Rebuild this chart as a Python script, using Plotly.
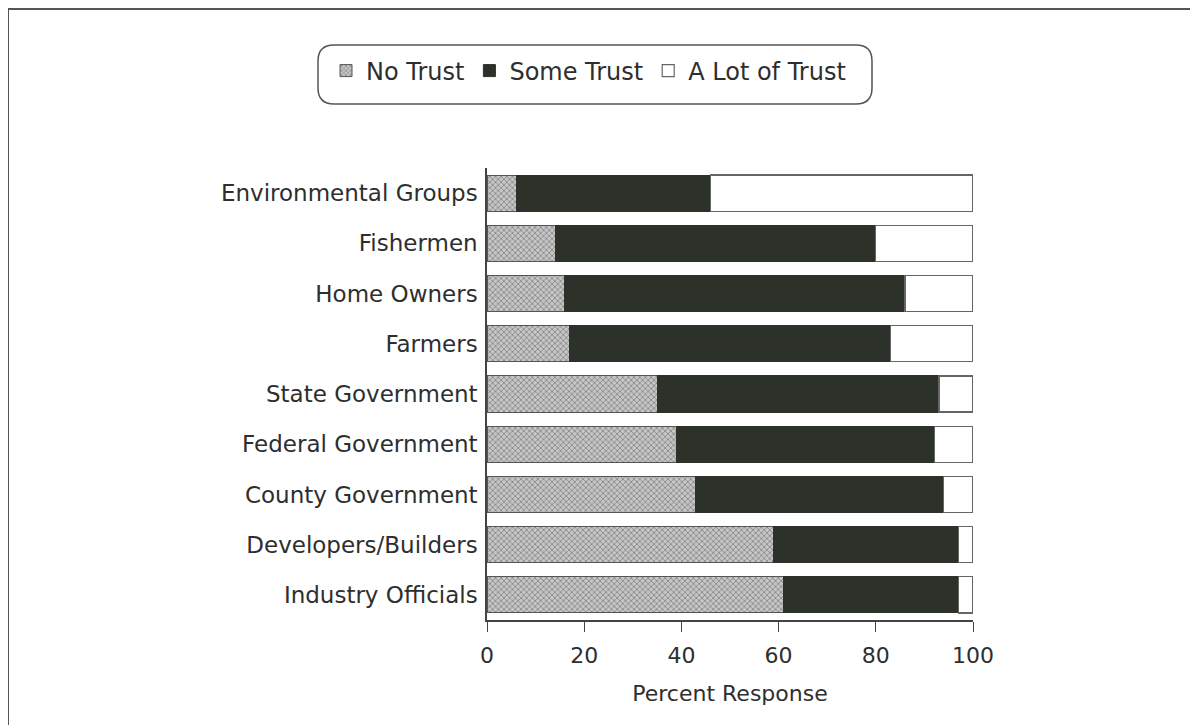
import plotly.graph_objects as go

categories = ["Environmental Groups", "Fishermen", "Home Owners", "Farmers",
              "State Government", "Federal Government", "County Government",
              "Developers/Builders", "Industry Officials"]
no_trust = [6, 14, 16, 17, 35, 39, 43, 59, 61]
some_trust = [40, 66, 70, 66, 58, 53, 51, 38, 36]
lot_trust = [54, 20, 14, 17, 7, 8, 6, 3, 3]
x_ticks = [0, 20, 40, 60, 80, 100]

OFF = 8  # page body margin
W, H = 1198 - OFF, 725 - OFF
L, R, T, B = 487 - OFF, 973 - OFF, 168 - OFF, 620 - OFF
PW, PH = R - L, B - T

def px(x):
    return (x - OFF - L) / PW

def py(y):
    return (B - (y - OFF)) / PH

FONT = "DejaVu Sans, Verdana, sans-serif"
TXT = "#2e2e2e"
FS = 22

fig = go.Figure()
fig.add_trace(go.Bar(
    y=categories, x=no_trust, name="No Trust", orientation="h",
    marker=dict(color="#b8b8b8",
                pattern=dict(shape="x", size=4, solidity=0.4, fgcolor="#4e4e4e", bgcolor="#c6c6c6"),
                line=dict(color="#555555", width=1))))
fig.add_trace(go.Bar(
    y=categories, x=some_trust, name="Some Trust", orientation="h",
    marker=dict(color="#2c3129", line=dict(color="#2c3129", width=1))))
fig.add_trace(go.Bar(
    y=categories, x=lot_trust, name="A Lot of Trust", orientation="h",
    marker=dict(color="#ffffff", line=dict(color="#666666", width=1.2))))

# rounded legend box
x0, x1, y0, y1 = px(318), px(872), py(104), py(45)
rx, ry = 16 / PW, 16 / PH
path = (f"M {x0+rx},{y1} L {x1-rx},{y1} Q {x1},{y1} {x1},{y1-ry} "
        f"L {x1},{y0+ry} Q {x1},{y0} {x1-rx},{y0} L {x0+rx},{y0} "
        f"Q {x0},{y0} {x0},{y0+ry} L {x0},{y1-ry} Q {x0},{y1} {x0+rx},{y1} Z")

shapes = [
    dict(type="path", path=path, xref="paper", yref="paper",
         line=dict(color="#555555", width=1.5), fillcolor="rgba(0,0,0,0)"),
    dict(type="rect", xref="paper", yref="paper",
         x0=px(8), x1=px(1192), y0=py(760), y1=py(9),
         line=dict(color="#555555", width=2), fillcolor="rgba(0,0,0,0)"),
]

fig.update_layout(
    width=W, height=H,
    barmode="stack", bargap=0.28,
    paper_bgcolor="white", plot_bgcolor="white",
    margin=dict(l=L, r=W - R, t=T, b=H - B),
    font=dict(family=FONT, size=FS, color=TXT),
    showlegend=True,
    legend=dict(orientation="h", x=px(326), y=py(71), xanchor="left", yanchor="middle",
                font=dict(size=24), bgcolor="rgba(0,0,0,0)", itemwidth=30,
                traceorder="normal", itemclick=False),
    shapes=shapes,
    xaxis=dict(range=[0, 100], tickvals=x_ticks, ticks="outside", ticklen=10,
               tickcolor="#444", showgrid=False, zeroline=False,
               showline=True, linecolor="#444", linewidth=1.5,
               tickfont=dict(size=FS), ticklabelstandoff=5,
               title=dict(text="Percent Response", font=dict(size=FS), standoff=18)),
    yaxis=dict(autorange="reversed", showgrid=False, zeroline=False,
               showline=True, linecolor="#444", linewidth=1.5,
               ticks="", ticklabelstandoff=3, tickfont=dict(size=23)),
)

fig.write_html("out.html")
